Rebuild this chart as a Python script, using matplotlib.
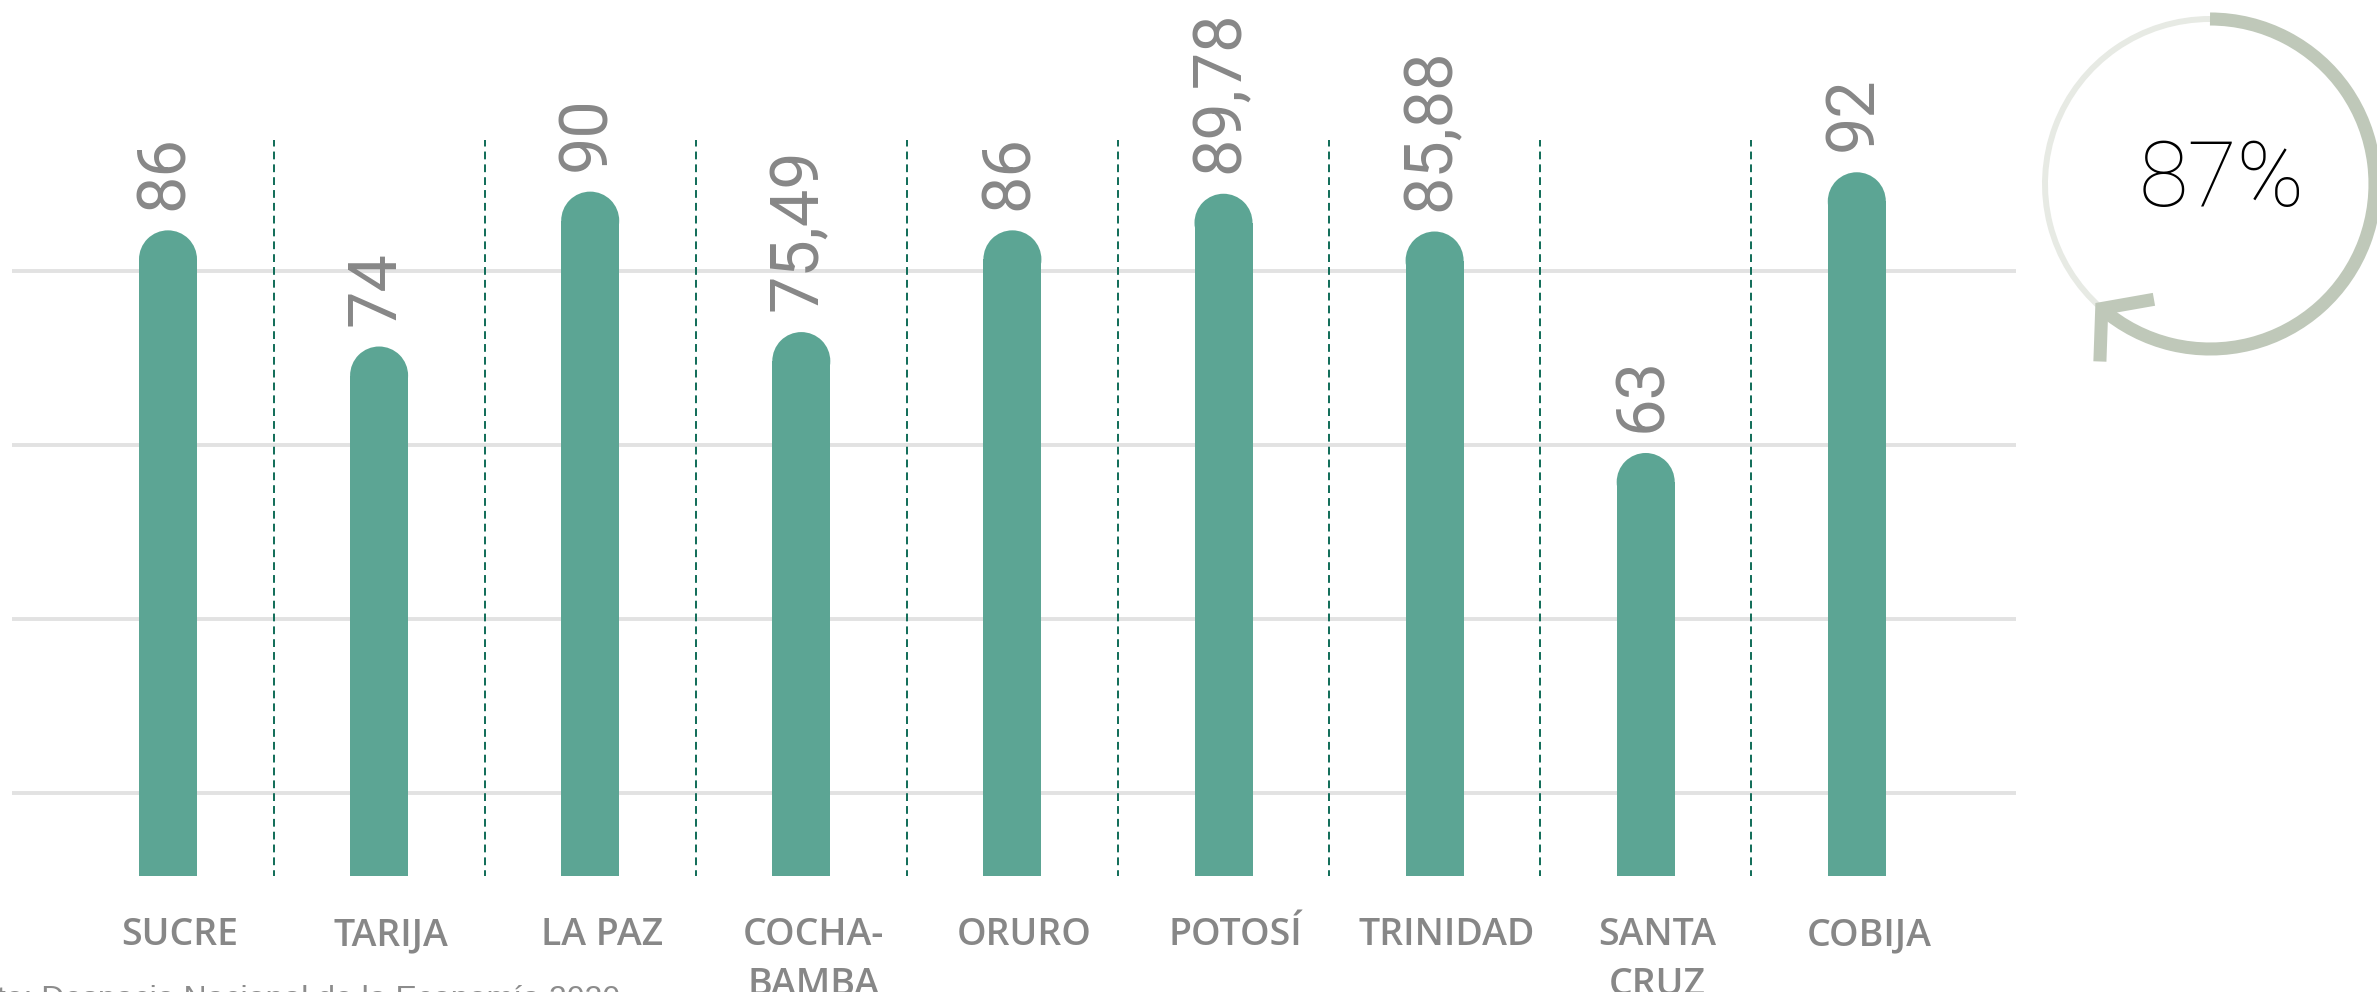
import numpy as np
import matplotlib.pyplot as plt
from matplotlib.patches import Ellipse, Arc

# data
cities = ['SUCRE', 'TARIJA', 'LA PAZ', 'COCHA-\nBAMBA', 'ORURO', 'POTOSÍ',
          'TRINIDAD', 'SANTA\nCRUZ', 'COBIJA']
values = [86, 74, 90, 75.49, 86, 89.78, 85.88, 63, 92]
value_labels = ['86', '74', '90', '75,49', '86', '89,78', '85,88', '63', '92']
ring_value = 87
source = 'Fuente: Despacio Nacional de la Economía 2020'

W, H = 2377, 992
bar_color = '#5ca594'
gray = '#878787'

fig = plt.figure(figsize=(W / 100, H / 100), dpi=100)

# main axes, bars start from a truncated baseline
base = 19.3      # value at the bottom of the bars
ppu = 9.68       # pixels per value unit
x_ppu = 211.1    # pixels per category
ax = fig.add_axes([12 / W, (H - 876) / H, (2016 - 12) / W, 876 / H])
x = np.arange(len(values))
ax.set_xlim((12 - 168) / x_ppu, (2016 - 168) / x_ppu)
ax.set_ylim(base, base + 876 / ppu)
ax.axis('off')

# light horizontal grid
for g in base + (83 + 174 * np.arange(4)) / ppu:
    ax.axhline(g, color='#e2e2e2', lw=2.8, zorder=0)

# dashed separators
ax.vlines(x[:-1] + 0.5, base - 0.2, base + 736 / ppu, colors='#0f6b57',
          lw=1.4, linestyles=(0, (4, 2.6)), zorder=1)

# rounded bars
bw = 58 / x_ppu
r = 29 / ppu
vals = np.array(values)
ax.bar(x, vals - r - base, width=bw, bottom=base, color=bar_color, zorder=2)
for xi, v in zip(x, vals):
    ax.add_patch(Ellipse((xi, v - r), bw, 2 * r, color=bar_color, zorder=2, lw=0))

# value labels
for xi, v, lbl in zip(x, vals, value_labels):
    ax.annotate(lbl, (xi, v), xytext=(-2, 15), textcoords='offset points',
                rotation=90, ha='center', va='bottom', fontsize=48,
                family='Roboto', weight='normal', color=gray)

# category labels
for xi, name in zip(x, cities):
    ax.annotate(name, (xi, 0), xycoords=ax.get_xaxis_transform(),
                xytext=(8.6, -29), textcoords='offset points',
                ha='center', va='top', fontsize=27, family='Open Sans',
                weight='semibold', color=gray, linespacing=1.4)

# source note, cut at the bottom like the original
fig.text(-76 / W, 1 - 1008 / H, source, ha='left', va='baseline', fontsize=23,
         family='Liberation Sans', color='#8c8c8c')

# ring indicator
rax = fig.add_axes([0, 0, 1, 1])
rax.set_xlim(0, W)
rax.set_ylim(0, H)
rax.axis('off')
rax.patch.set_alpha(0)

cx, cy, rr = 2210, H - 184, 165
t_end = 229
rax.add_patch(Arc((cx, cy), 2 * rr, 2 * rr, theta1=90, theta2=t_end,
                  color='#e7eae4', lw=4.3))
rax.add_patch(Arc((cx, cy), 2 * rr, 2 * rr, theta1=t_end, theta2=450,
                  color='#bfc8b9', lw=9.4))

t = np.radians(t_end)
tip = np.array([cx + rr * np.cos(t), cy + rr * np.sin(t)])
back = np.array([-np.sin(t), np.cos(t)])
arms = []
for a in (np.radians(51), np.radians(-51)):
    rot = np.array([[np.cos(a), -np.sin(a)], [np.sin(a), np.cos(a)]])
    arms.append(tip + 53 * rot @ back)
chev = np.array([arms[0], tip, arms[1]])
rax.plot(chev[:, 0], chev[:, 1], color='#bfc8b9', lw=9.4,
         solid_joinstyle='miter', solid_capstyle='butt')

rax.text(2222, H - 181, f'{ring_value}%', ha='center', va='center',
         fontsize=65, family='Roboto', weight='light', color='black')

fig.savefig('out.png', dpi=100)
